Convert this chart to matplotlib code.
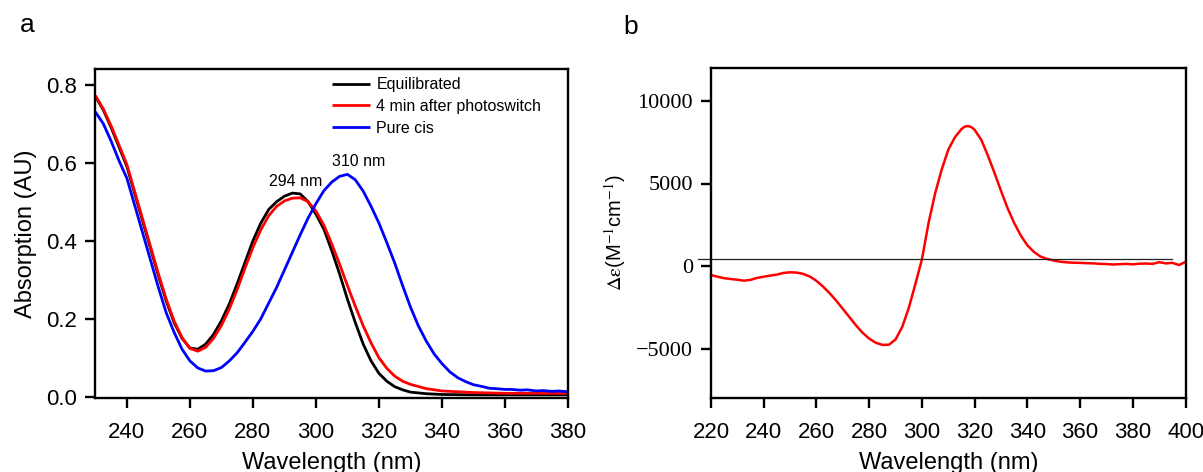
import numpy as np
import matplotlib
matplotlib.use("Agg")
import matplotlib.pyplot as plt

# ---------------- Data: panel a (absorption) ----------------
wl_eq = [230, 232.5, 235, 237.5, 240, 242.5, 245, 247.5, 250, 252.5, 255, 257.5,
         260, 262.5, 265, 267.5, 270, 272.5, 275, 277.5, 280, 282.5, 285, 287.5,
         290, 292.5, 295, 297.5, 300, 302.5, 305, 307.5, 310, 312.5, 315, 317.5,
         320, 322.5, 325, 327.5, 330, 335, 340, 350, 360, 370, 380]
abs_eq = [0.770, 0.735, 0.690, 0.640, 0.590, 0.520, 0.450, 0.380, 0.310, 0.245, 0.190, 0.150,
          0.125, 0.122, 0.135, 0.160, 0.195, 0.238, 0.290, 0.345, 0.400, 0.445, 0.480, 0.500,
          0.514, 0.522, 0.520, 0.500, 0.468, 0.430, 0.375, 0.315, 0.250, 0.190, 0.135, 0.092,
          0.060, 0.040, 0.026, 0.018, 0.012, 0.008, 0.006, 0.005, 0.005, 0.005, 0.005]

wl_ps = wl_eq
abs_ps = [0.772, 0.738, 0.694, 0.645, 0.595, 0.525, 0.455, 0.385, 0.315, 0.250, 0.194, 0.152,
          0.124, 0.117, 0.127, 0.150, 0.183, 0.225, 0.275, 0.330, 0.383, 0.428, 0.464, 0.488,
          0.502, 0.509, 0.510, 0.500, 0.476, 0.440, 0.392, 0.340, 0.285, 0.232, 0.182, 0.138,
          0.100, 0.073, 0.053, 0.040, 0.032, 0.021, 0.015, 0.011, 0.009, 0.009, 0.009]

wl_cis = [230, 232.5, 235, 237.5, 240, 242.5, 245, 247.5, 250, 252.5, 255, 257.5,
          260, 262.5, 265, 267.5, 270, 272.5, 275, 277.5, 280, 282.5, 285, 287.5,
          290, 292.5, 295, 297.5, 300, 302.5, 305, 307.5, 310, 312.5, 315, 317.5,
          320, 322.5, 325, 327.5, 330, 332.5, 335, 337.5, 340, 342.5, 345, 347.5,
          350, 353, 355, 357, 360, 362, 365, 367, 370, 372, 375, 377, 380]
abs_cis = [0.730, 0.700, 0.655, 0.605, 0.560, 0.490, 0.420, 0.350, 0.280, 0.215, 0.165, 0.122,
           0.092, 0.074, 0.066, 0.067, 0.075, 0.092, 0.113, 0.140, 0.168, 0.200, 0.240, 0.280,
           0.325, 0.370, 0.415, 0.458, 0.495, 0.528, 0.550, 0.565, 0.570, 0.556, 0.527, 0.488,
           0.445, 0.395, 0.343, 0.285, 0.230, 0.182, 0.143, 0.110, 0.085, 0.064, 0.049, 0.039,
           0.031, 0.026, 0.022, 0.021, 0.019, 0.019, 0.017, 0.018, 0.015, 0.016, 0.014, 0.015, 0.013]

series_labels = ["Equilibrated", "4 min after photoswitch", "Pure cis"]
peak_labels = ["294 nm", "310 nm"]

# ---------------- Data: panel b (CD) ----------------
wl_cd = [220, 222.5, 225, 227.5, 230, 232.5, 235, 237.5, 240, 242.5, 245, 247.5,
         250, 252.5, 255, 257.5, 260, 262.5, 265, 267.5, 270, 272.5, 275, 277.5,
         280, 282.5, 285, 287.5, 290, 292.5, 295, 297.5, 300, 302.5, 305, 307.5,
         310, 312.5, 315, 316.25, 317.5, 318.75, 320, 322.5, 325, 327.5, 330, 332.5, 335, 337.5,
         340, 342.5, 345, 347.5, 350, 352.5, 355, 357.5, 360, 362.5, 365, 367.5,
         370, 372.5, 375, 377.5, 380, 382.5, 385, 387.5, 390, 392.5, 395, 397.5, 400]
de_cd = [-550, -650, -740, -790, -830, -890, -840, -720, -650, -580, -520, -420,
         -380, -400, -480, -640, -900, -1250, -1650, -2100, -2600, -3100, -3600, -4050,
         -4400, -4650, -4780, -4770, -4450, -3700, -2550, -1100, 400, 2600, 4400, 5850,
         7050, 7800, 8300, 8450, 8480, 8420, 8250, 7650, 6700, 5650, 4550, 3500, 2600, 1850,
         1250, 850, 570, 430, 330, 260, 220, 200, 190, 170, 160, 130,
         120, 90, 110, 130, 100, 140, 150, 130, 230, 160, 190, 60, 250]

ref_line_wl = [215, 395]
ref_line_val = [400, 400]

# ---------------- Figure ----------------
W, H = 1203, 472
fig = plt.figure(figsize=(W / 100, H / 100), dpi=100)
sans = "Liberation Sans"
serif = "Liberation Serif"
plt.rcParams["font.family"] = sans
plt.rcParams["mathtext.fontset"] = "stix"

lw_spine = 1.7

def px_axes(l, r, t, b):
    return [l / W, 1 - b / H, (r - l) / W, (b - t) / H]

# Panel a
ax1 = fig.add_axes(px_axes(95.4, 568, 69, 398))
kw = dict(lw=2.0, solid_joinstyle="round", solid_capstyle="butt")
ax1.plot(wl_eq, abs_eq, color="#000000", label=series_labels[0], **kw)
ax1.plot(wl_ps, abs_ps, color="#ff0000", label=series_labels[1], **kw)
ax1.plot(wl_cis, abs_cis, color="#0000ff", label=series_labels[2], **kw)
ax1.set_xlim(230, 380)
ax1.set_ylim(-0.003, 0.84)
ax1.set_xticks(np.arange(240, 381, 20))
ax1.set_yticks([0.0, 0.2, 0.4, 0.6, 0.8])
ax1.yaxis.set_major_formatter(matplotlib.ticker.FormatStrFormatter("%.1f"))
ax1.tick_params(axis="x", direction="out", length=7, width=lw_spine, labelsize=16, pad=10)
ax1.tick_params(axis="y", direction="out", length=7, width=lw_spine, labelsize=16, pad=6)
ax1.tick_params(top=False, right=False)
for s in ax1.spines.values():
    s.set_linewidth(lw_spine)
ax1.set_xlabel("Wavelength (nm)", fontsize=17, labelpad=7)
ax1.set_ylabel("Absorption (AU)", fontsize=17, labelpad=7)
leg = ax1.legend(loc="upper left", bbox_to_anchor=(0.5, 0.975), frameon=False,
                 fontsize=11.5, handlelength=2.4, handletextpad=0.4,
                 labelspacing=0.42, borderpad=0, borderaxespad=0)
ax1.text(293.4, 0.552, peak_labels[0], fontsize=11.5, ha="center", va="center")
ax1.text(313.7, 0.603, peak_labels[1], fontsize=11.5, ha="center", va="center")
fig.text(20 / W, 1 - 25 / H, "a", fontsize=19, ha="left", va="center")

# Panel b
ax2 = fig.add_axes(px_axes(711, 1185.6, 68, 398))
ax2.plot(wl_cd, de_cd, color="#ff0000", lw=1.8, clip_on=False, solid_joinstyle="round")
ax2.plot(ref_line_wl, ref_line_val, color="#222222", lw=0.9, clip_on=False)
ax2.set_xlim(220, 400)
ax2.set_ylim(-8000, 12000)
ax2.set_xticks(np.arange(220, 401, 20))
ax2.set_yticks([-5000, 0, 5000, 10000])
ax2.tick_params(axis="x", direction="out", length=7, width=lw_spine, labelsize=16, pad=10)
ax2.tick_params(axis="y", direction="out", length=7, width=lw_spine, labelsize=16, pad=6)
for lab in ax2.get_yticklabels():
    lab.set_fontfamily(serif)
for s in ax2.spines.values():
    s.set_linewidth(lw_spine)
ax2.set_xlabel("Wavelength (nm)", fontsize=17, labelpad=7)
ax2.set_ylabel(r"$\mathrm{\Delta\varepsilon}$(M$^{-1}$cm$^{-1}$)", fontsize=14.5, labelpad=6)
fig.text(623 / W, 1 - 27 / H, "b", fontsize=19, ha="left", va="center")

fig.savefig("out.png", dpi=100)
